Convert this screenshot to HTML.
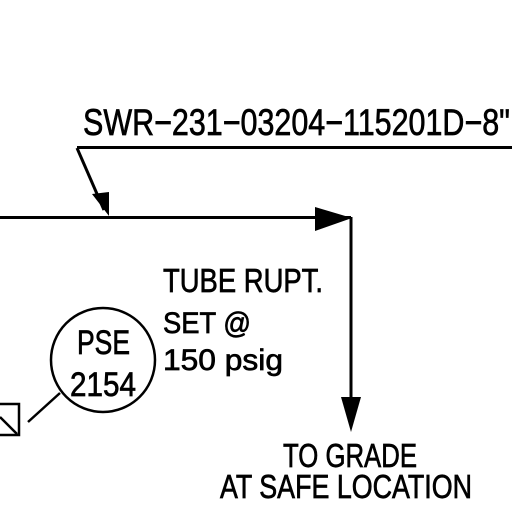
<!DOCTYPE html>
<html><head><style>html,body{margin:0;padding:0;background:#fff;}svg{display:block}</style></head>
<body>
<svg width="512" height="512" viewBox="0 0 512 512" xmlns="http://www.w3.org/2000/svg" font-family="Liberation Sans, sans-serif">
<rect width="512" height="512" fill="#fff"/>
<g stroke="#000" stroke-width="3" fill="none">
<line x1="77" y1="147.5" x2="512" y2="147.5"/>
<line x1="77" y1="148" x2="104" y2="210"/>
<line x1="0" y1="217.5" x2="351" y2="217.5"/>
<line x1="351" y1="217" x2="351" y2="425"/>
<circle cx="103" cy="360" r="52" stroke-width="2.5"/>
<rect x="-2" y="404" width="21" height="31" stroke-width="2.5"/>
<line x1="0" y1="417" x2="17" y2="434" stroke-width="2.5"/>
<line x1="28" y1="422" x2="60" y2="393" stroke-width="2.5"/>
</g>
<polygon points="92,194 109,216 109,192" fill="#000"/>
<polygon points="315,207 352,218 315,231" fill="#000"/>
<polygon points="341,397 361,397 351,432" fill="#000"/>
<g fill="#000" stroke="#000" stroke-width="0.7">
<text x="83" y="135" textLength="427" lengthAdjust="spacingAndGlyphs" font-size="37">SWR−231−03204−115201D−8"</text>
<text x="163" y="292" textLength="160" lengthAdjust="spacingAndGlyphs" font-size="33">TUBE RUPT.</text>
<text x="163" y="333" textLength="88" lengthAdjust="spacingAndGlyphs" font-size="30">SET @</text>
<text x="163" y="370" textLength="120" lengthAdjust="spacingAndGlyphs" font-size="30">150 psig</text>
<text x="77" y="354" textLength="53" lengthAdjust="spacingAndGlyphs" font-size="34">PSE</text>
<text x="70" y="396" textLength="66" lengthAdjust="spacingAndGlyphs" font-size="34">2154</text>
<text x="283" y="467" textLength="134" lengthAdjust="spacingAndGlyphs" font-size="33">TO GRADE</text>
<text x="220" y="498" textLength="252" lengthAdjust="spacingAndGlyphs" font-size="33">AT SAFE LOCATION</text>
</g>
</svg>
</body></html>
